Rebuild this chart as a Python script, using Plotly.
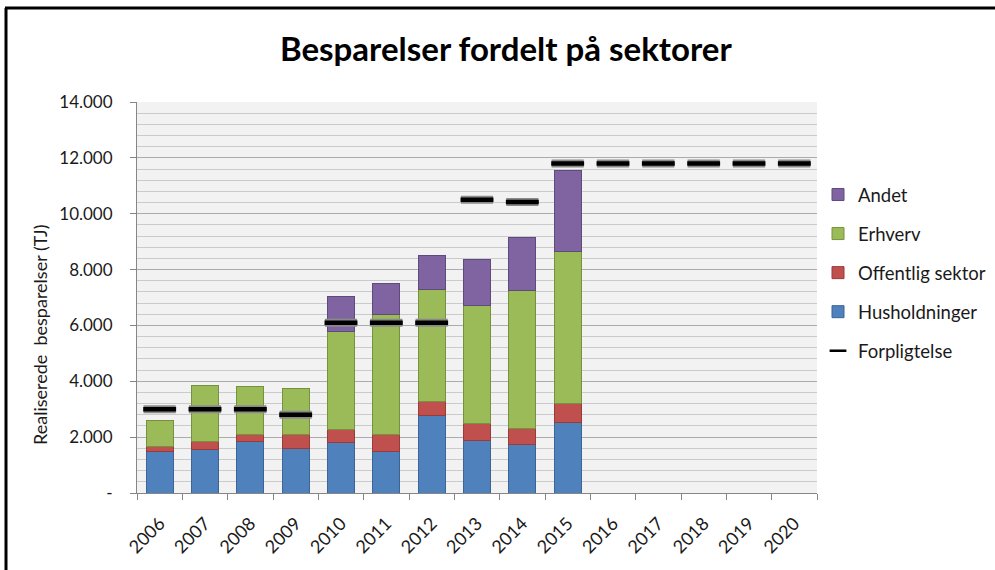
import plotly.graph_objects as go

# ---- data ----
years = [str(y) for y in range(2006, 2021)]
husholdninger = [1474, 1560, 1830, 1593, 1807, 1499, 2771, 1867, 1725, 2533, None, None, None, None, None]
offentlig = [179, 285, 250, 487, 453, 593, 523, 606, 570, 689, None, None, None, None, None]
erhverv = [952, 1995, 1737, 1665, 3507, 4305, 3996, 4234, 4947, 5412, None, None, None, None, None]
andet = [None, None, None, None, 1272, 1106, 1212, 1665, 1915, 2914, None, None, None, None, None]
forpligtelse = [3000, 3000, 3000, 2800, 6100, 6100, 6100, 10500, 10420, 11800, 11800, 11800, 11800, 11800, 11800]
y_tickvals = [0, 2000, 4000, 6000, 8000, 10000, 12000, 14000]
y_ticktext = ["-", "2.000", "4.000", "6.000", "8.000", "10.000", "12.000", "14.000"]

FONT = "Lato"
TXT = "#1a1a1a"

fig = go.Figure()

series = [
    ("Husholdninger", husholdninger, "#4F81BD", "#3A6596", 4),
    ("Offentlig sektor", offentlig, "#C0504D", "#9A3B39", 3),
    ("Erhverv", erhverv, "#9BBB59", "#76923C", 2),
    ("Andet", andet, "#8064A2", "#5F4A7C", 1),
]
for name, vals, col, lcol, rank in series:
    fig.add_trace(go.Bar(
        x=years, y=vals, name=name,
        marker=dict(color=col, line=dict(color=lcol, width=1)),
        legendgroup=name, legendrank=rank,
    ))

# commitment markers: gray halo + black core
fig.add_trace(go.Scatter(
    x=years, y=forpligtelse, mode="markers", showlegend=False,
    marker=dict(symbol="line-ew", size=23, line=dict(color="#8a8a8a", width=8)),
    hoverinfo="skip",
))
fig.add_trace(go.Scatter(
    x=years, y=forpligtelse, mode="markers", showlegend=False, name="Forpligtelse",
    marker=dict(symbol="line-ew", size=23.5, line=dict(color="#000000", width=4.5)),
))
# legend entry
fig.add_trace(go.Scatter(
    x=[None], y=[None], mode="markers", name="Forpligtelse",
    marker=dict(symbol="line-ew", size=12, line=dict(color="#000000", width=2.5)),
    legendgroup="Forpligtelse", legendrank=5,
))

L, R, T, B = 137, 178, 102, 77
W, H = 995, 570
pw, ph = W - L - R, H - T - B

def px(xp):
    return (xp - L) / pw

def py(yp):
    return (H - B - yp) / ph

fig.update_layout(
    width=W, height=H,
    margin=dict(l=L, r=R, t=T, b=B, autoexpand=False),
    paper_bgcolor="white",
    plot_bgcolor="#F2F2F2",
    barmode="stack",
    bargap=0.40,
    font=dict(family=FONT, size=17, color=TXT),
    showlegend=True,
    legend=dict(
        x=px(818), y=py(176), xanchor="left", yanchor="top",
        traceorder="grouped", tracegroupgap=12,
        font=dict(family=FONT, size=18.5, color=TXT),
        bgcolor="rgba(0,0,0,0)",
    ),
    xaxis=dict(
        type="category", categoryorder="array", categoryarray=years,
        range=[-0.5, len(years) - 0.5],
        tickangle=-45, tickson="boundaries",
        ticks="outside", ticklen=6, tickcolor="#868686",
        ticklabelstandoff=12,
        showline=True, linecolor="#868686", linewidth=1,
        showgrid=False,
        tickfont=dict(family=FONT, size=18, color=TXT),
    ),
    yaxis=dict(
        range=[0, 14000],
        tickvals=y_tickvals, ticktext=y_ticktext,
        ticks="outside", ticklen=6, tickcolor="#868686",
        ticklabelstandoff=14,
        showline=True, linecolor="#868686", linewidth=1,
        showgrid=True, gridcolor="#ABABAB", gridwidth=1,
        zeroline=False,
        minor=dict(dtick=400, showgrid=True, gridcolor="#CACACA", gridwidth=1),
        tickfont=dict(family=FONT, size=17, color=TXT),
    ),
    annotations=[
        dict(text="<b>Besparelser fordelt på sektorer</b>", xref="paper", yref="paper",
             x=px(506), y=py(48), xanchor="center", yanchor="middle", showarrow=False,
             font=dict(family=FONT, size=33, color="#000000")),
        dict(text="Realiserede  besparelser (TJ)", xref="paper", yref="paper",
             x=px(40), y=py(335), xanchor="center", yanchor="middle", showarrow=False,
             textangle=-90, font=dict(family=FONT, size=18, color=TXT)),
    ],
    shapes=[
        dict(type="line", xref="paper", yref="paper", x0=px(6), x1=px(6), y0=py(580), y1=py(8),
             line=dict(color="black", width=3)),
        dict(type="line", xref="paper", yref="paper", x0=px(5), x1=px(1000), y0=py(8), y1=py(8),
             line=dict(color="black", width=3)),
    ],
)

fig.write_html("out.html", config={"displayModeBar": False},
               post_script="document.body.style.margin='0';")
